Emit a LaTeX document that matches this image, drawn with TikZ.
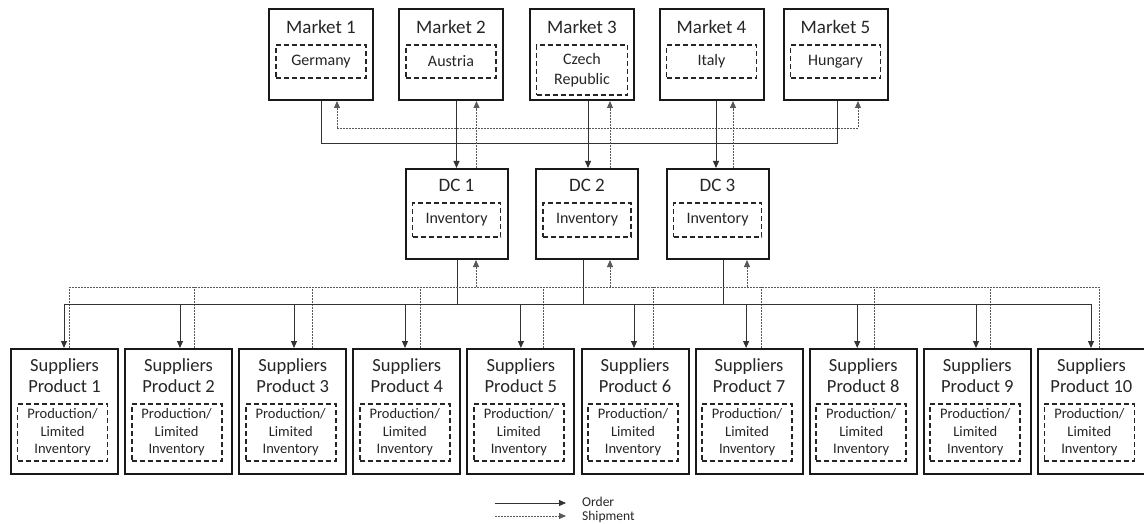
\documentclass[tikz,border=0pt]{standalone}
\usepackage{fontspec}
\setmainfont{Carlito}
\usetikzlibrary{arrows.meta,calc}

\tikzset{
  outerbox/.style={draw=black!90, line width=2pt, rectangle, inner sep=0pt, fill=white},
  innerbox/.style={draw=black!85, line width=1.8pt, dash pattern=on 5pt off 3pt,
                   rectangle, inner sep=0pt, align=center, text=black!85},
  titletext/.style={font=\fontsize{19}{21}\selectfont, text=black!85, align=center, inner sep=0pt},
  markettext/.style={font=\fontsize{16}{20}\selectfont},
  suppliertext/.style={font=\fontsize{14.5}{17.5}\selectfont},
  orderline/.style={draw=black!80, line width=1pt},
  shipline/.style={draw=black!65, line width=0.9pt, dash pattern=on 1.6pt off 1.4pt},
  tip/.style={-{Triangle[length=7pt,width=6pt]}},
  legendtext/.style={font=\fontsize{13.5}{15}\selectfont, text=black!85, anchor=west, inner sep=0pt}
}

\begin{document}
\begin{tikzpicture}[x=1pt,y=-1pt]
\useasboundingbox (0,0) rectangle (1144,524);

% ---------- markets ----------
\foreach \i/\cx/\name in {1/321/Germany, 2/451/Austria, 4/711.5/Italy, 5/835.5/Hungary}{
  \node[outerbox, minimum width=104pt, minimum height=91pt] (m\i) at (\cx,54.5) {};
  \node[titletext] (m\i t) at ($(m\i.north)+(0,19)$) {Market \i};
  \node[innerbox, markettext, minimum width=90pt, minimum height=33pt] (m\i i) at ($(m\i.north)+(0,53.5)$) {\name};
}
\node[outerbox, minimum width=104pt, minimum height=91pt] (m3) at (582,54.5) {};
\node[titletext] (m3t) at ($(m3.north)+(0,19)$) {Market 3};
\node[innerbox, markettext, minimum width=91pt, minimum height=50pt] (m3i) at ($(m3.north)+(0,62)$) {Czech\\Republic};

% ---------- distribution centres ----------
\foreach \i/\cx in {1/456.5, 2/587, 3/717.5}{
  \node[outerbox, minimum width=102pt, minimum height=90pt] (dc\i) at (\cx,214) {};
  \node[titletext] (dc\i t) at ($(dc\i.north)+(0,17)$) {DC \i};
  \node[innerbox, markettext, minimum width=88pt, minimum height=34pt] (dc\i i) at ($(dc\i.north)+(0,52)$) {Inventory};
}

% ---------- suppliers ----------
\foreach \i in {1,...,10}{
  \pgfmathsetmacro{\cx}{64.5+114.1*(\i-1)}
  \node[outerbox, minimum width=107pt, minimum height=125pt] (s\i) at (\cx,411.5) {};
  \node[titletext, font=\fontsize{18.5}{21}\selectfont] (s\i t) at ($(s\i.north)+(0,27.5)$) {Suppliers\\Product \i};
  \node[innerbox, suppliertext, minimum width=90pt, minimum height=57pt] (s\i i) at ($(s\i.north)+(-2,84.5)$) {Production/\\Limited\\Inventory};
}

% ---------- market links ----------
\coordinate (mbusO) at (0,144);
\coordinate (mbusS) at (0,128);
% orders from markets 1 and 5
\coordinate (om1) at (m1.south);
\coordinate (om5) at ($(m5.south)+(1.5,0)$);
\draw[orderline] (om1) -- (om1 |- mbusO) -- (om5 |- mbusO) -- (om5);
% shipments to markets 1 and 5
\coordinate (sm1) at ($(m1.south)+(16,0)$);
\coordinate (sm5) at ($(m5.south)+(22.5,0)$);
\draw[shipline, tip] (sm1 |- mbusS) -- (sm1);
\draw[shipline, tip] (sm1 |- mbusS) -- (sm5 |- mbusS) -- (sm5);
% orders market -> DC
\coordinate (md1) at (dc1.north);
\coordinate (md2) at ($(dc2.north)+(1,0)$);
\coordinate (md3) at ($(dc3.north)+(-1.5,0)$);
\draw[orderline, tip] (md1 |- m2.south) -- (md1);
\draw[orderline, tip] (md2 |- m3.south) -- (md2);
\draw[orderline, tip] (md3 |- m4.south) -- (md3);
% shipments DC -> market
\coordinate (up1) at ($(dc1.north)+(20,0)$);
\coordinate (up2) at ($(dc2.north)+(23,0)$);
\coordinate (up3) at ($(dc3.north)+(15.5,0)$);
\draw[shipline, tip] (up1) -- (up1 |- m2.south);
\draw[shipline, tip] (up2) -- (up2 |- m3.south);
\draw[shipline, tip] (up3) -- (up3 |- m4.south);

% ---------- supplier links ----------
\coordinate (sbusO) at (0,304);
\coordinate (sbusS) at (0,287);
% orders DC -> supplier bus
\coordinate (do1) at ($(dc1.south)+(0.5,0)$);
\coordinate (do2) at ($(dc2.south)+(-4,0)$);
\coordinate (do3) at ($(dc3.south)+(5.5,0)$);
\foreach \j in {1,2,3}{
  \draw[orderline] (do\j) -- (do\j |- sbusO);
}
% shipments supplier bus -> DC
\coordinate (ds1) at ($(dc1.south)+(19.5,0)$);
\coordinate (ds2) at ($(dc2.south)+(23,0)$);
\coordinate (ds3) at ($(dc3.south)+(29.5,0)$);
\foreach \j in {1,2,3}{
  \draw[shipline, tip] (ds\j |- sbusS) -- (ds\j);
}
% drops to each supplier
\foreach \i/\oo/\so in {1/-0.5/4.5, 2/1.4/15.4, 3/1.3/19.3, 4/-1.8/13.2, 5/0/22.1,
                        6/-1/18, 7/-3/11.9, 8/-6/10.8, 9/-1.3/12.7, 10/-0.4/7.6}{
  \coordinate (so\i) at ($(s\i.north)+(\oo,0)$);
  \coordinate (ss\i) at ($(s\i.north)+(\so,0)$);
  \draw[orderline, tip] (so\i |- sbusO) -- (so\i);
  \draw[shipline] (ss\i) -- (ss\i |- sbusS);
}
\draw[orderline] (so1 |- sbusO) -- (so10 |- sbusO);
\draw[shipline] (ss1 |- sbusS) -- (ss10 |- sbusS);

% ---------- legend ----------
\node[legendtext] (lgo) at (582,502) {Order};
\node[legendtext] (lgs) at (582,517) {Shipment};
\coordinate (lo) at (495,503);
\coordinate (ls) at (495,516);
\draw[orderline, tip] (lo) -- ($(lo -| lgo.west)+(-16,0)$);
\draw[shipline, tip] (ls) -- ($(ls -| lgs.west)+(-16,0)$);
\end{tikzpicture}
\end{document}
